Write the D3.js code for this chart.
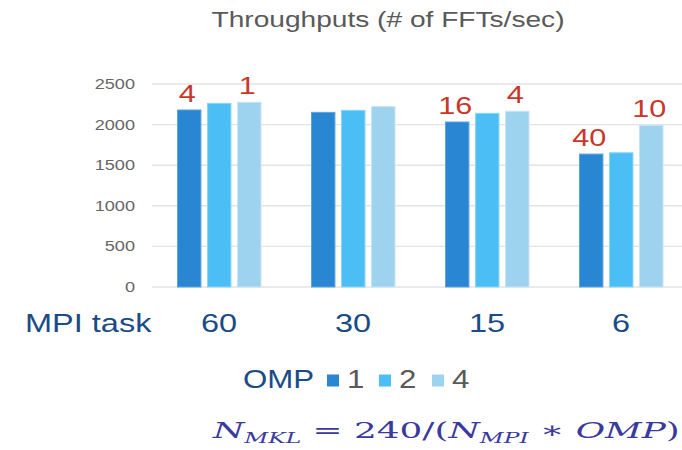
<!DOCTYPE html>
<html>
<head>
<meta charset="utf-8">
<script src="https://cdn.jsdelivr.net/npm/d3@7"></script>
<style>
  body { margin: 0; background: #fff; }
  svg { display: block; font-family: "Liberation Sans", Arial, sans-serif; }
</style>
</head>
<body>
<svg id="chart"></svg>
<script>
// chart data
var mpiTasks = ["60", "30", "15", "6"];
var ompThreads = ["1", "2", "4"];
var throughput = [
  [2180, 2262, 2275],   // 60 MPI tasks
  [2151, 2176, 2221],   // 30
  [2032, 2139, 2164],   // 15
  [1637, 1653, 1991]    // 6
];
var yTicks = [0, 500, 1000, 1500, 2000, 2500];
// N_MKL labels written over some of the bars: [group, series, text]
var mklLabels = [
  [0, 0, "4"], [0, 2, "1"],
  [2, 0, "16"], [2, 2, "4"],
  [3, 0, "40"], [3, 2, "10"]
];

var width = 682,
    height = 450,
    stretch = 1.25; // the picture is a bit wider than tall

var colors = ["#2886d3", "#4bbff5", "#9dd3ef"];
var strokes = ["#5aa5e0", "#8ad6f8", "#c4e5f6"];

var svg = d3.select("#chart")
    .attr("width", width)
    .attr("height", height);

// place a horizontally stretched text
function label(g, x, y, txt, size, color, anchor) {
  return g.append("text")
      .attr("transform", "translate(" + x + "," + y + ") scale(" + stretch + ",1)")
      .attr("text-anchor", anchor || "start")
      .style("font-size", size + "px")
      .style("fill", color)
      .text(txt);
}

var x0 = d3.scaleBand()
    .domain(mpiTasks)
    .range([152, 152 + 4 * 134]);

var x1 = d3.scaleBand()
    .domain(ompThreads)
    .range([25.5, 109])
    .paddingInner(0.22);

var y = d3.scaleLinear()
    .domain([0, 2500])
    .range([287, 84]);

// title
label(svg, 388, 27, "Throughputs (# of FFTs/sec)", 22.5, "#595959", "middle");

// gridlines
svg.append("g")
    .selectAll("line")
    .data(yTicks)
  .enter().append("line")
    .attr("x1", 152)
    .attr("x2", width)
    .attr("y1", function(d) { return y(d); })
    .attr("y2", function(d) { return y(d); })
    .style("stroke", "#e3e3e3")
    .style("stroke-width", 1.4);

// y tick labels
var yAxis = svg.append("g");
yTicks.forEach(function(t) {
  label(yAxis, 135, y(t) + 5, t, 14.5, "#666", "end");
});

// bars
var groups = svg.append("g")
    .selectAll("g")
    .data(throughput)
  .enter().append("g")
    .attr("transform", function(d, i) { return "translate(" + x0(mpiTasks[i]) + ",0)"; });

groups.selectAll("rect")
    .data(function(d) { return d; })
  .enter().append("rect")
    .attr("x", function(d, j) { return x1(ompThreads[j]); })
    .attr("y", function(d) { return y(d); })
    .attr("width", x1.bandwidth())
    .attr("height", function(d) { return y(0) - y(d); })
    .style("fill", function(d, j) { return colors[j]; })
    .style("stroke", function(d, j) { return strokes[j]; })
    .style("stroke-width", 1);

// red N_MKL numbers
var ann = svg.append("g");
mklLabels.forEach(function(a) {
  var v = throughput[a[0]][a[1]];
  var cx = x0(mpiTasks[a[0]]) + x1(ompThreads[a[1]]) + x1.bandwidth() / 2;
  label(ann, cx - 2, y(v) - 8, a[2], 24.5, "#c8372a", "middle");
});

// x category labels
var xAxis = svg.append("g");
label(xAxis, 25, 332, "MPI task", 26, "#1b4b86", "start");
mpiTasks.forEach(function(m) {
  label(xAxis, x0(m) + x0.bandwidth() / 2, 332, m, 26, "#1b4b86", "middle");
});

// legend
var legend = svg.append("g");
label(legend, 243, 388, "OMP", 25, "#1b4b86", "start");
var legX = [327, 379, 432];
ompThreads.forEach(function(o, j) {
  legend.append("rect")
      .attr("x", legX[j])
      .attr("y", 374.5)
      .attr("width", 12)
      .attr("height", 12)
      .style("fill", colors[j]);
  label(legend, legX[j] + 20, 388, o, 25, "#595959", "start");
});

// formula
var f = svg.append("text")
    .attr("x", 0)
    .attr("y", 0)
    .style("font-family", "'DejaVu Serif', 'Liberation Serif', serif")
    .style("font-size", "23px")
    .style("fill", "#3a3a9c");
function part(txt, italic, sub) {
  f.append("tspan")
      .attr("dy", sub === 1 ? 5 : sub === -1 ? -5 : null)
      .style("font-style", italic ? "italic" : "normal")
      .style("font-size", sub === 1 ? "15px" : null)
      .text(txt);
}
part("N", true, 0);
part("MKL", true, 1);
part(" = 240/(", false, -1);
part("N", true, 0);
part("MPI", true, 1);
part(" \u2217 ", false, -1);
part("OMP", true, 0);
part(")", false, 0);
var fw = f.node().getComputedTextLength();
f.attr("transform", "translate(213,438) scale(" + (467 / fw) + ",1)");
</script>
</body>
</html>
